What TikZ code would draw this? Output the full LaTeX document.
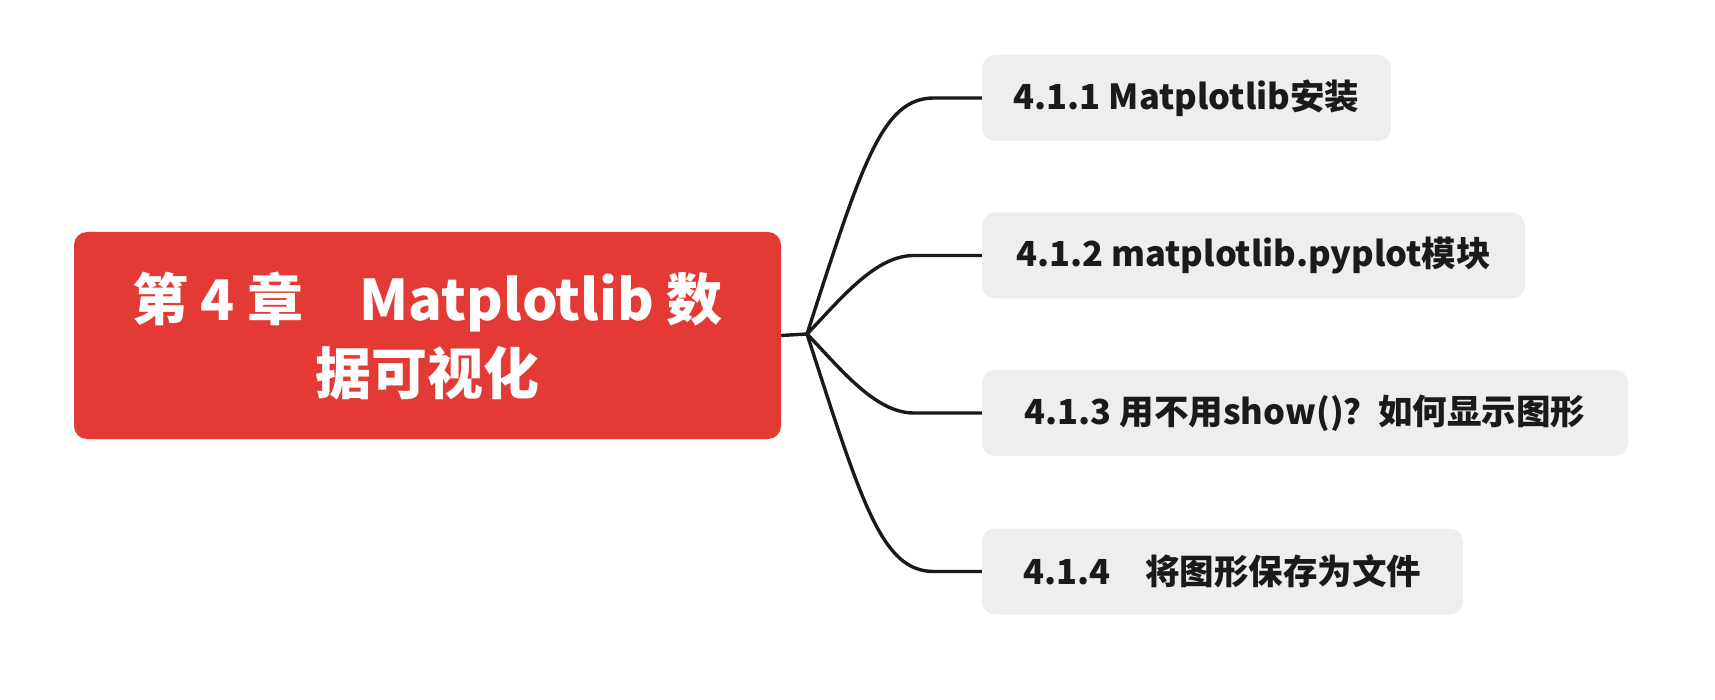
\documentclass[tikz,border=0pt]{standalone}
\usepackage{fontspec}
\setmainfont{Noto Sans CJK SC}
\definecolor{rootred}{HTML}{E43A35}
\definecolor{subgray}{HTML}{EEEEEE}
\definecolor{ink}{HTML}{1A1A1A}
\tikzset{
  rootbox/.style={rectangle, rounded corners=13pt, fill=rootred, text=white,
    minimum width=707pt, minimum height=207pt, align=center, inner sep=0pt,
    font=\fontsize{56}{74}\selectfont\bfseries},
  subbox/.style={rectangle, rounded corners=13pt, fill=subgray, text=ink,
    minimum height=86pt, inner sep=0pt, font=\fontsize{34.5}{40}\selectfont\bfseries},
  link/.style={draw=ink, line width=3.4pt}
}
\begin{document}
\begin{tikzpicture}[x=1pt,y=-1pt]
\useasboundingbox (0,0) rectangle (1715,700);
\node[rootbox] (root) at (427.5,335.5) {第 4 章\hspace{1em}Matplotlib 数\\据可视化};
\node[subbox, minimum width=409pt] (b1) at (1186.5,98) {4.1.1 Matplotlib安装};
\node[subbox, minimum width=543pt] (b2) at (1253.5,255.5) {4.1.2 matplotlib.pyplot模块};
\node[subbox, minimum width=646pt] (b3) at (1305,413) {4.1.3 用不用show()？如何显示图形};
\node[subbox, minimum width=481pt] (b4) at (1222.5,571.5) {4.1.4\hspace{1em}将图形保存为文件};
\coordinate (br) at (807,334);
\draw[link] (root.east) -- (br);
\draw[link] (br) .. controls +(55,-170) and +(-52,0) .. ([xshift=-48pt]b1.west) -- (b1.west);
\draw[link] (br) .. controls +(33,-34) and +(-39,0) .. ([xshift=-68pt]b2.west) -- (b2.west);
\draw[link] (br) .. controls +(33,34) and +(-39,0) .. ([xshift=-68pt]b3.west) -- (b3.west);
\draw[link] (br) .. controls +(55,170) and +(-52,0) .. ([xshift=-48pt]b4.west) -- (b4.west);
\end{tikzpicture}
\end{document}
